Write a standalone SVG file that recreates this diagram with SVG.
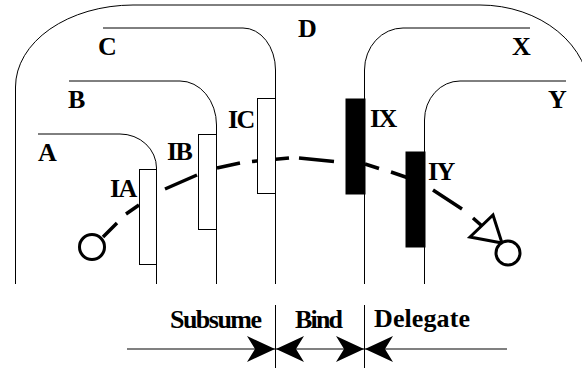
<svg xmlns="http://www.w3.org/2000/svg" width="582" height="368" viewBox="0 0 582 368">
<style>
.frame{fill:none;stroke:#000;stroke-width:1}
.lbl{font-family:'Liberation Serif','Times New Roman',serif;font-weight:700;font-size:26px;fill:#000}
.il{letter-spacing:-1.5px}
.ifw{fill:#fff;stroke:#000;stroke-width:1}
.ifb{fill:#000;stroke:#000;stroke-width:1}
.dash{fill:none;stroke:#000;stroke-width:3.5;stroke-linecap:butt}
.end{fill:#fff;stroke:#000;stroke-width:3}
.ah{fill:#000;stroke:none}
</style>
<defs>
<path id="ah" d="M0,0 L-28,-13 L-20,0 L-28,13 Z"/>
</defs>
<rect width="582" height="368" fill="#fff"/>

<g id="D">
<path class="frame" d="M15.5,284 L15.5,87 A118,82 0 0 1 133,5 L480,5 A110,90 0 0 1 590,95 L590,284"/>
<text class="lbl" x="298" y="37">D</text>
</g>
<g id="C">
<path class="frame" d="M103,28 L243,28 A32.5,42 0 0 1 275.5,70 L275.5,284"/>
<text class="lbl" x="98" y="55">C</text>
</g>
<g id="B">
<path class="frame" d="M69,81 L180,81 A36.5,44 0 0 1 216.5,125 L216.5,284"/>
<text class="lbl" x="68" y="108">B</text>
</g>
<g id="A">
<path class="frame" d="M38,134 L120,134 A36.5,34 0 0 1 156.5,168 L156.5,284"/>
<text class="lbl" x="38" y="161">A</text>
</g>
<g id="X">
<path class="frame" d="M530,28 L403,28 A38.5,42 0 0 0 364.5,70 L364.5,284"/>
<text class="lbl" x="512" y="55">X</text>
</g>
<g id="Y">
<path class="frame" d="M566,81 L460,81 A35.5,39 0 0 0 424.5,120 L424.5,284"/>
<text class="lbl" x="548" y="108">Y</text>
</g>

<g id="connectors">
<circle class="end" cx="92" cy="247" r="12.5"/>
<path class="dash" d="M103,237 L117,223 M126,214 L139,205 M165,189 L197,175 M217,168 L240,163 M252,161.5 L289,158 M299,158 L334,161.5 M365,164 L379,168.5 M391,172 L407,177.5 M433,190 L462,209 M473,218 L482,226"/>
<polygon class="end" points="470,237 493,215 502,243" style="fill:none"/>
<circle class="end" cx="508" cy="253" r="12"/>
</g>

<g id="IA">
<rect class="ifw" x="139.5" y="169.5" width="17" height="95"/>
<text class="lbl il" x="110" y="197">IA</text>
</g>
<g id="IB">
<rect class="ifw" x="198.5" y="134.5" width="18" height="95"/>
<text class="lbl il" x="167" y="160">IB</text>
</g>
<g id="IC">
<rect class="ifw" x="257.5" y="98.5" width="18" height="95"/>
<text class="lbl il" x="228" y="128">IC</text>
</g>
<g id="IX">
<rect class="ifb" x="346" y="99" width="19" height="95"/>
<text class="lbl il" x="370" y="127">IX</text>
</g>
<g id="IY">
<rect class="ifb" x="406" y="152" width="19" height="95"/>
<text class="lbl il" x="428" y="180">IY</text>
</g>

<g id="scale">
<line x1="127" y1="349" x2="507" y2="349" stroke="#808080" stroke-width="2"/>
<line x1="275.5" y1="305" x2="275.5" y2="368" stroke="#000" stroke-width="1"/>
<line x1="364.5" y1="305" x2="364.5" y2="368" stroke="#000" stroke-width="1"/>
<use href="#ah" class="ah" transform="translate(275,349)"/>
<use href="#ah" class="ah" transform="translate(276,349) rotate(180)"/>
<use href="#ah" class="ah" transform="translate(364,349)"/>
<use href="#ah" class="ah" transform="translate(365,349) rotate(180)"/>
<text class="lbl" x="170" y="328" textLength="92">Subsume</text>
<text class="lbl" x="295" y="328" textLength="48">Bind</text>
<text class="lbl" x="374" y="327" textLength="96">Delegate</text>
</g>
</svg>
